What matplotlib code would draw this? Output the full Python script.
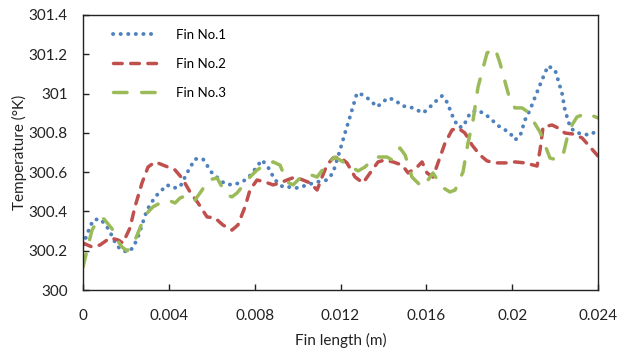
import matplotlib
matplotlib.use("Agg")
import matplotlib.pyplot as plt

plt.rcParams['font.family'] = ['Lato', 'DejaVu Sans']

# ---- data ----
fin1_x = [0, 0.23, 0.47, 0.79, 1.07, 1.26, 1.49, 1.72, 2.05, 2.33, 2.56, 2.75, 2.98, 3.36, 3.68,
          3.92, 4.19, 4.52, 4.85, 5.22, 5.59, 6.01, 6.29, 6.62, 6.99, 7.41, 7.69, 7.92, 8.34,
          8.62, 8.95, 9.32, 9.65, 10.02, 10.44, 10.91, 11.37, 11.65, 11.98, 12.21, 12.44,
          12.77, 13.05, 13.38, 13.70, 13.98, 14.21, 14.54, 14.87, 15.24, 15.57, 15.85, 16.17,
          16.50, 16.73, 16.96, 17.24, 17.48, 17.71, 18.04, 18.36, 18.64, 18.97, 19.29, 19.67,
          19.90, 20.13, 20.37, 20.60, 20.83, 21.07, 21.39, 21.67, 22.00, 22.14, 22.32, 22.46,
          22.70, 22.93, 23.26, 23.63, 24.00]
fin1_t = [300.229, 300.295, 300.356, 300.362, 300.331, 300.295, 300.244, 300.209, 300.193,
          300.214, 300.270, 300.331, 300.407, 300.474, 300.509, 300.535, 300.519, 300.524,
          300.596, 300.667, 300.667, 300.596, 300.570, 300.540, 300.535, 300.550, 300.570,
          300.601, 300.662, 300.626, 300.560, 300.524, 300.524, 300.519, 300.535, 300.550,
          300.560, 300.596, 300.713, 300.799, 300.881, 301.003, 300.993, 300.967, 300.932,
          300.957, 300.978, 300.967, 300.937, 300.932, 300.916, 300.901, 300.932, 300.967,
          300.988, 300.957, 300.881, 300.830, 300.830, 300.901, 300.916, 300.901, 300.876,
          300.840, 300.815, 300.799, 300.764, 300.784, 300.866, 300.916, 300.983, 301.069,
          301.141, 301.120, 301.069, 301.003, 300.916, 300.830, 300.804, 300.794, 300.789,
          300.815]

fin2_x = [0, 0.42, 0.79, 1.26, 1.63, 1.86, 2.19, 2.42, 2.75, 3.03, 3.36, 3.73, 4.29, 4.61,
          4.99, 5.36, 5.78, 6.15, 6.52, 6.94, 7.22, 7.55, 7.78, 8.11, 8.48, 8.86, 9.18, 9.51,
          9.88, 10.25, 10.58, 10.91, 11.14, 11.37, 11.65, 11.98, 12.30, 12.68, 13.05, 13.38,
          13.75, 14.07, 14.45, 14.87, 15.15, 15.57, 15.80, 16.03, 16.31, 16.64, 16.87, 17.20,
          17.48, 17.80, 18.13, 18.50, 18.83, 19.20, 19.76, 20.13, 20.60, 21.16, 21.30, 21.44,
          21.86, 22.14, 22.46, 22.84, 23.26, 23.63, 24.00]
fin2_t = [300.239, 300.219, 300.229, 300.265, 300.255, 300.239, 300.316, 300.423, 300.545,
          300.626, 300.652, 300.636, 300.611, 300.570, 300.499, 300.443, 300.372, 300.367,
          300.331, 300.305, 300.331, 300.423, 300.509, 300.560, 300.550, 300.535, 300.545,
          300.560, 300.575, 300.560, 300.545, 300.509, 300.575, 300.636, 300.672, 300.677,
          300.647, 300.575, 300.545, 300.596, 300.652, 300.662, 300.652, 300.636, 300.596,
          300.626, 300.652, 300.596, 300.575, 300.677, 300.748, 300.815, 300.825, 300.799,
          300.738, 300.687, 300.657, 300.647, 300.647, 300.652, 300.647, 300.631, 300.713,
          300.830, 300.840, 300.825, 300.799, 300.794, 300.774, 300.728, 300.682]

fin3_x = [0, 0.19, 0.42, 0.70, 0.93, 1.17, 1.40, 1.58, 1.82, 2.05, 2.33, 2.56, 2.75, 3.03,
          3.26, 3.59, 3.96, 4.29, 4.52, 4.89, 5.22, 5.55, 5.83, 6.25, 6.48, 6.71, 6.94, 7.18,
          7.55, 7.78, 8.11, 8.48, 8.86, 9.18, 9.51, 9.79, 10.11, 10.49, 10.91, 11.37, 11.74,
          12.12, 12.44, 12.82, 13.14, 13.38, 13.70, 14.17, 14.40, 14.77, 15.01, 15.33, 15.80,
          16.08, 16.31, 16.73, 17.10, 17.34, 17.71, 17.94, 18.18, 18.41, 18.83, 19.20, 19.43,
          19.67, 19.90, 20.13, 20.46, 20.74, 21.07, 21.30, 21.53, 21.76, 22.09, 22.37, 22.56,
          22.79, 23.02, 23.49, 23.77, 24.00]
fin3_t = [300.117, 300.204, 300.305, 300.356, 300.367, 300.336, 300.305, 300.255, 300.219,
          300.199, 300.229, 300.290, 300.341, 300.397, 300.423, 300.443, 300.458, 300.443,
          300.468, 300.484, 300.458, 300.509, 300.560, 300.570, 300.524, 300.484, 300.474,
          300.494, 300.545, 300.575, 300.611, 300.636, 300.652, 300.636, 300.550, 300.535,
          300.570, 300.591, 300.575, 300.642, 300.677, 300.652, 300.631, 300.606, 300.626,
          300.652, 300.677, 300.677, 300.662, 300.723, 300.687, 300.575, 300.524, 300.560,
          300.596, 300.524, 300.499, 300.509, 300.601, 300.748, 300.866, 301.034, 301.207,
          301.232, 301.156, 301.059, 300.967, 300.927, 300.927, 300.906, 300.845, 300.804,
          300.738, 300.672, 300.662, 300.687, 300.774, 300.840, 300.881, 300.901, 300.886,
          300.876]

labels = ["Fin No.1", "Fin No.2", "Fin No.3"]
xticks = [0, 0.004, 0.008, 0.012, 0.016, 0.02, 0.024]
xticklabels = ["0", "0.004", "0.008", "0.012", "0.016", "0.02", "0.024"]
yticks = [300, 300.2, 300.4, 300.6, 300.8, 301, 301.2, 301.4]
yticklabels = ["300", "300.2", "300.4", "300.6", "300.8", "301", "301.2", "301.4"]

# ---- plot ----
fig = plt.figure(figsize=(6.28, 3.52), dpi=100)
ax = fig.add_axes([83/628, 1-290/352, 515/628, 275/352])

ax.plot([v*1e-3 for v in fin1_x], fin1_t, color='#4F81BD', lw=2.8,
        linestyle=(0, (0.05, 1.9)), dash_capstyle='round', label=labels[0])
ax.plot([v*1e-3 for v in fin2_x], fin2_t, color='#C0504D', lw=2.5,
        linestyle=(0, (2.5, 2.45)), dash_capstyle='round', label=labels[1])
ax.plot([v*1e-3 for v in fin3_x], fin3_t, color='#9BBB59', lw=2.5,
        linestyle=(0, (3.9, 4.2)), dash_capstyle='round', label=labels[2])

ax.set_xlim(0, 0.024)
ax.set_ylim(300, 301.4)
ax.set_xticks(xticks)
ax.set_xticklabels(xticklabels)
ax.set_yticks(yticks)
ax.set_yticklabels(yticklabels)
ax.tick_params(direction='in', length=4, width=1, labelsize=11, colors='#222222')
ax.tick_params(axis='x', pad=14)
ax.tick_params(axis='y', pad=11)
for s in ax.spines.values():
    s.set_color('#222222')
    s.set_linewidth(1)

ax.set_xlabel("Fin length (m)", fontsize=11, labelpad=7, color='#222222')
ax.set_ylabel("Temperature (°K)", fontsize=11, labelpad=1, color='#222222')

leg = ax.legend(loc='upper left', bbox_to_anchor=(0.058, 0.95), frameon=False,
                fontsize=9.5, handlelength=3.4, handletextpad=1.4, labelspacing=1.3,
                borderaxespad=0, borderpad=0)

fig.savefig("out.png", dpi=100)
